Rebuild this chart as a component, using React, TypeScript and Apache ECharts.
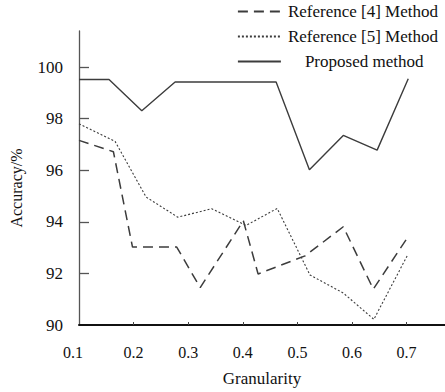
import React, { useEffect, useRef } from "react";
import * as echarts from "echarts";

const seriesNames = ["Reference [4] Method", "Reference [5] Method", "Proposed method"];

const ref4X = [0.1, 0.163, 0.198, 0.279, 0.322, 0.401, 0.428, 0.514, 0.584, 0.639, 0.701];
const ref4Y = [97.16, 96.72, 93.02, 93.02, 91.45, 94.04, 91.98, 92.68, 93.81, 91.39, 93.37];

const ref5X = [0.1, 0.166, 0.223, 0.281, 0.343, 0.406, 0.463, 0.523, 0.584, 0.64, 0.701];
const ref5Y = [97.8, 97.12, 94.96, 94.18, 94.51, 93.86, 94.52, 91.94, 91.24, 90.22, 92.68];

const propX = [0.1, 0.155, 0.215, 0.276, 0.461, 0.522, 0.584, 0.646, 0.703];
const propY = [99.52, 99.52, 98.31, 99.42, 99.42, 96.02, 97.35, 96.78, 99.55];

const xTicks = [0.1, 0.2, 0.3, 0.4, 0.5, 0.6, 0.7];
const yTicks = [90, 92, 94, 96, 98, 100];

const FONT = "Liberation Serif";
const INK = "#111";
const LINE = "#3c3c3c";

function zip(xs: number[], ys: number[]) {
  return xs.map((x, i) => [x, ys[i]]);
}

export default function App() {
  const ref = useRef<HTMLDivElement>(null);
  useEffect(() => {
    if (!ref.current) return;
    const chart = echarts.init(ref.current, undefined, { renderer: "svg" });
    chart.setOption({
      animation: false,
      backgroundColor: "#fff",
      textStyle: { fontFamily: FONT, color: INK },
      legend: {
        orient: "vertical",
        right: 2,
        top: -2,
        itemWidth: 43,
        itemHeight: 14,
        itemGap: 8,
        data: seriesNames,
        itemStyle: { opacity: 0 },
        textStyle: {
          fontFamily: FONT,
          fontSize: 17,
          color: INK,
          padding: [0, 0, 0, 2],
          rich: { c: { fontFamily: FONT, fontSize: 17, color: INK, padding: [0, 0, 0, 17] } },
        },
        formatter: (name: string) => (name === "Proposed method" ? `{c|${name}}` : name),
      },
      grid: { left: 79, right: 0, top: 31, bottom: 63, containLabel: false },
      xAxis: {
        type: "value",
        min: 0.1,
        max: 0.7703,
        name: "Granularity",
        nameLocation: "middle",
        nameGap: 45,
        nameTextStyle: { fontFamily: FONT, fontSize: 17, color: INK },
        axisLine: { show: true, lineStyle: { color: "#111", width: 2 } },
        axisTick: { show: true, inside: true, length: 3, customValues: xTicks.slice(1), lineStyle: { color: "#444" } },
        axisLabel: {
          customValues: xTicks,
          margin: 19,
          fontFamily: FONT,
          fontSize: 16,
          color: INK,
          formatter: (v: number) => (Math.abs(v - 0.1) < 1e-6 ? "{a|0.1}" : v.toFixed(1)),
          rich: { a: { fontFamily: FONT, fontSize: 16, color: INK, padding: [0, 12, 0, 0] } },
        },
        splitLine: { show: false },
      },
      yAxis: {
        type: "value",
        min: 90,
        max: 101.4,
        name: "Accuracy/%",
        nameLocation: "middle",
        nameGap: 55,
        nameTextStyle: { fontFamily: FONT, fontSize: 16, color: INK, padding: [0, 20, 0, 0] },
        axisLine: { show: true, lineStyle: { color: "#555", width: 1.3 } },
        axisTick: { show: true, inside: true, length: 10, customValues: yTicks.slice(1), lineStyle: { color: "#555", width: 1.3 } },
        axisLabel: { customValues: yTicks, margin: 16, fontFamily: FONT, fontSize: 17, color: INK },
        splitLine: { show: false },
      },
      series: [
        {
          name: seriesNames[0],
          type: "line",
          symbol: "none",
          data: zip(ref4X, ref4Y),
          lineStyle: { color: LINE, width: 1.5, type: [10, 6] },
          itemStyle: { color: LINE },
        },
        {
          name: seriesNames[1],
          type: "line",
          symbol: "none",
          data: zip(ref5X, ref5Y),
          lineStyle: { color: LINE, width: 1.1, type: [2, 2] },
          itemStyle: { color: LINE },
        },
        {
          name: seriesNames[2],
          type: "line",
          symbol: "none",
          data: zip(propX, propY),
          lineStyle: { color: LINE, width: 1.4, type: "solid" },
          itemStyle: { color: LINE },
        },
      ],
    });
    return () => chart.dispose();
  }, []);
  return (
    <div
      ref={ref}
      style={{ position: "absolute", left: 0, top: 0, width: 445, height: 392 }}
    />
  );
}
